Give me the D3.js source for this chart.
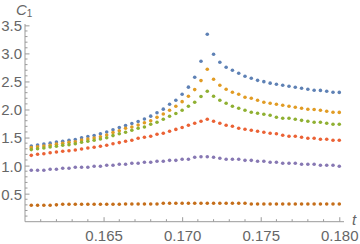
<!DOCTYPE html>
<html>
<head>
<meta charset="utf-8">
<script src="https://cdn.jsdelivr.net/npm/d3@7"></script>
<style>
	html, body { margin: 0; padding: 0; background: white; }
	svg { display: block; }
</style>
</head>
<body>
<svg id="chart" width="360" height="244"></svg>
<script>
"use strict";

// t values (sample positions)
var tValues = [
	0.1604, 0.1608, 0.1612, 0.1616, 0.1620, 0.1624, 0.1628, 0.1632, 0.1636, 0.1640,
	0.1644, 0.1648, 0.1652, 0.1656, 0.1660, 0.1664, 0.1668, 0.1672, 0.1676, 0.1680,
	0.1684, 0.1688, 0.1692, 0.1696, 0.1700, 0.1704, 0.1708, 0.1712, 0.1716, 0.1720,
	0.1724, 0.1728, 0.1732, 0.1736, 0.1740, 0.1744, 0.1748, 0.1752, 0.1756, 0.1760,
	0.1764, 0.1768, 0.1772, 0.1776, 0.1780, 0.1784, 0.1788, 0.1792, 0.1796, 0.1800
];

// C1 values, one list per series
var seriesBlue = [
	1.350, 1.367, 1.385, 1.400, 1.421, 1.433, 1.451, 1.465, 1.495, 1.518,
	1.537, 1.566, 1.600, 1.640, 1.677, 1.715, 1.750, 1.786, 1.830, 1.881,
	1.941, 2.006, 2.093, 2.166, 2.273, 2.398, 2.574, 2.859, 3.340, 2.984,
	2.841, 2.752, 2.699, 2.645, 2.592, 2.556, 2.520, 2.496, 2.470, 2.449,
	2.431, 2.414, 2.396, 2.378, 2.360, 2.342, 2.340, 2.324, 2.307, 2.305
];
var seriesOrange = [
	1.320, 1.335, 1.349, 1.362, 1.382, 1.397, 1.415, 1.426, 1.456, 1.474,
	1.492, 1.515, 1.545, 1.590, 1.620, 1.665, 1.688, 1.724, 1.765, 1.800,
	1.860, 1.920, 1.986, 2.057, 2.140, 2.235, 2.355, 2.515, 2.717, 2.538,
	2.431, 2.360, 2.307, 2.271, 2.217, 2.200, 2.164, 2.128, 2.111, 2.093,
	2.075, 2.057, 2.039, 2.021, 2.004, 2.000, 1.986, 1.968, 1.950, 1.948
];
var seriesGreen = [
	1.285, 1.300, 1.314, 1.332, 1.344, 1.362, 1.373, 1.390, 1.415, 1.433,
	1.451, 1.474, 1.497, 1.535, 1.567, 1.594, 1.629, 1.665, 1.688, 1.736,
	1.772, 1.825, 1.879, 1.930, 1.986, 2.057, 2.130, 2.232, 2.324, 2.235,
	2.164, 2.111, 2.057, 2.021, 1.986, 1.950, 1.932, 1.914, 1.897, 1.861,
	1.843, 1.843, 1.825, 1.807, 1.790, 1.772, 1.772, 1.754, 1.736, 1.736
];
var seriesRed = [
	1.183, 1.201, 1.212, 1.230, 1.242, 1.255, 1.266, 1.278, 1.296, 1.314,
	1.326, 1.344, 1.362, 1.390, 1.410, 1.433, 1.451, 1.487, 1.504, 1.522,
	1.558, 1.576, 1.611, 1.645, 1.680, 1.718, 1.754, 1.790, 1.825, 1.790,
	1.754, 1.718, 1.701, 1.665, 1.647, 1.629, 1.611, 1.594, 1.576, 1.567,
	1.540, 1.522, 1.522, 1.504, 1.487, 1.487, 1.469, 1.469, 1.451, 1.451
];
var seriesPurple = [
	0.916, 0.916, 0.916, 0.934, 0.934, 0.952, 0.952, 0.970, 0.970, 0.970,
	0.988, 0.988, 1.005, 1.005, 1.023, 1.023, 1.041, 1.041, 1.059, 1.059,
	1.077, 1.077, 1.094, 1.094, 1.112, 1.112, 1.148, 1.159, 1.159, 1.148,
	1.130, 1.112, 1.112, 1.112, 1.094, 1.094, 1.077, 1.077, 1.059, 1.059,
	1.041, 1.041, 1.041, 1.023, 1.023, 1.023, 1.005, 1.005, 1.005, 0.988
];
var seriesBrown = [
	0.292, 0.292, 0.292, 0.292, 0.300, 0.310, 0.310, 0.310, 0.310, 0.310,
	0.310, 0.310, 0.310, 0.310, 0.310, 0.316, 0.316, 0.316, 0.316, 0.316,
	0.316, 0.328, 0.328, 0.328, 0.328, 0.328, 0.328, 0.328, 0.328, 0.328,
	0.328, 0.328, 0.328, 0.328, 0.328, 0.316, 0.316, 0.316, 0.316, 0.316,
	0.316, 0.316, 0.316, 0.316, 0.316, 0.316, 0.316, 0.316, 0.316, 0.316
];

// tick labels
var xTickValues = [0.165, 0.170, 0.175, 0.180];
var yTickValues = [0.5, 1.0, 1.5, 2.0, 2.5, 3.0, 3.5];

(function() {
	var allSeries = [
		{values: seriesBlue, color: "#5e81b5"},
		{values: seriesOrange, color: "#e19c24"},
		{values: seriesGreen, color: "#8fb032"},
		{values: seriesRed, color: "#eb6235"},
		{values: seriesPurple, color: "#8778b3"},
		{values: seriesBrown, color: "#c56e1a"}
	];

	var svg = d3.select("#chart");
	var axisColor = "#9a9a9a";
	var textColor = "#666666";
	var font = "'Liberation Sans', Arial, sans-serif";

	var x = d3.scaleLinear().domain([0.16, 0.1803]).range([25, 344]);
	var y = d3.scaleLinear().domain([0, 3.524]).range([221.7, 24]);

	// minor ticks every 0.001 in t and 0.1 in C1
	var xMinor = d3.range(161, 181).map(function(d) { return d / 1000; })
		.filter(function(d) { return xTickValues.indexOf(d) < 0; });
	var yMinor = d3.range(1, 36).map(function(d) { return d / 10; })
		.filter(function(d) { return Math.round(d * 10) % 5 !== 0; });

	// x axis, ticks pointing up
	var xAxis = d3.axisTop(x)
		.tickValues(xTickValues)
		.tickSize(4.5)
		.tickFormat(d3.format(".3f"));
	var gx = svg.append("g")
		.attr("transform", "translate(0," + y(0) + ")")
		.call(xAxis);
	gx.append("g").selectAll("line")
		.data(xMinor)
		.join("line")
		.attr("x1", function(d) { return x(d); })
		.attr("x2", function(d) { return x(d); })
		.attr("y1", 0)
		.attr("y2", -2.5);
	gx.selectAll("text")
		.attr("y", 19.5)
		.attr("dy", null)
		.attr("dominant-baseline", "auto");

	// y axis, ticks pointing right
	var yAxis = d3.axisRight(y)
		.tickValues(yTickValues)
		.tickSize(4.5)
		.tickFormat(d3.format(".1f"));
	var gy = svg.append("g")
		.attr("transform", "translate(" + x(0.16) + ",0)")
		.call(yAxis);
	gy.append("g").selectAll("line")
		.data(yMinor)
		.join("line")
		.attr("x1", 0)
		.attr("x2", 2.5)
		.attr("y1", function(d) { return y(d); })
		.attr("y2", function(d) { return y(d); });
	gy.selectAll("text")
		.attr("x", -3)
		.attr("text-anchor", "end")
		.attr("dy", "0.36em");

	// common axis style
	[gx, gy].forEach(function(g) {
		g.select(".domain")
			.attr("stroke", axisColor)
			.attr("stroke-width", 1)
			.attr("d", g === gx ?
				"M" + x(0.16) + ",0H" + x(0.1803) :
				"M0," + y(0) + "V" + y(3.524));
		g.selectAll("line")
			.attr("stroke", axisColor)
			.attr("stroke-width", 1);
		g.selectAll("text")
			.attr("fill", textColor)
			.style("font-family", font)
			.style("font-size", "15px");
	});

	// axis labels
	var cLabel = svg.append("text")
		.attr("x", 16)
		.attr("y", 15)
		.attr("fill", textColor)
		.style("font-family", font)
		.style("font-size", "15px");
	cLabel.append("tspan")
		.style("font-style", "italic")
		.text("C");
	cLabel.append("tspan")
		.attr("dy", 2)
		.style("font-size", "10px")
		.text("1");

	svg.append("text")
		.attr("x", 352)
		.attr("y", 225)
		.attr("fill", textColor)
		.style("font-family", font)
		.style("font-size", "15px")
		.style("font-style", "italic")
		.text("t");

	// points
	svg.append("g").selectAll("g")
		.data(allSeries)
		.join("g")
		.attr("fill", function(s) { return s.color; })
		.selectAll("circle")
		.data(function(s) { return s.values; })
		.join("circle")
		.attr("cx", function(d, i) { return x(tValues[i]); })
		.attr("cy", function(d) { return y(d); })
		.attr("r", 1.8);
}());
</script>
</body>
</html>
